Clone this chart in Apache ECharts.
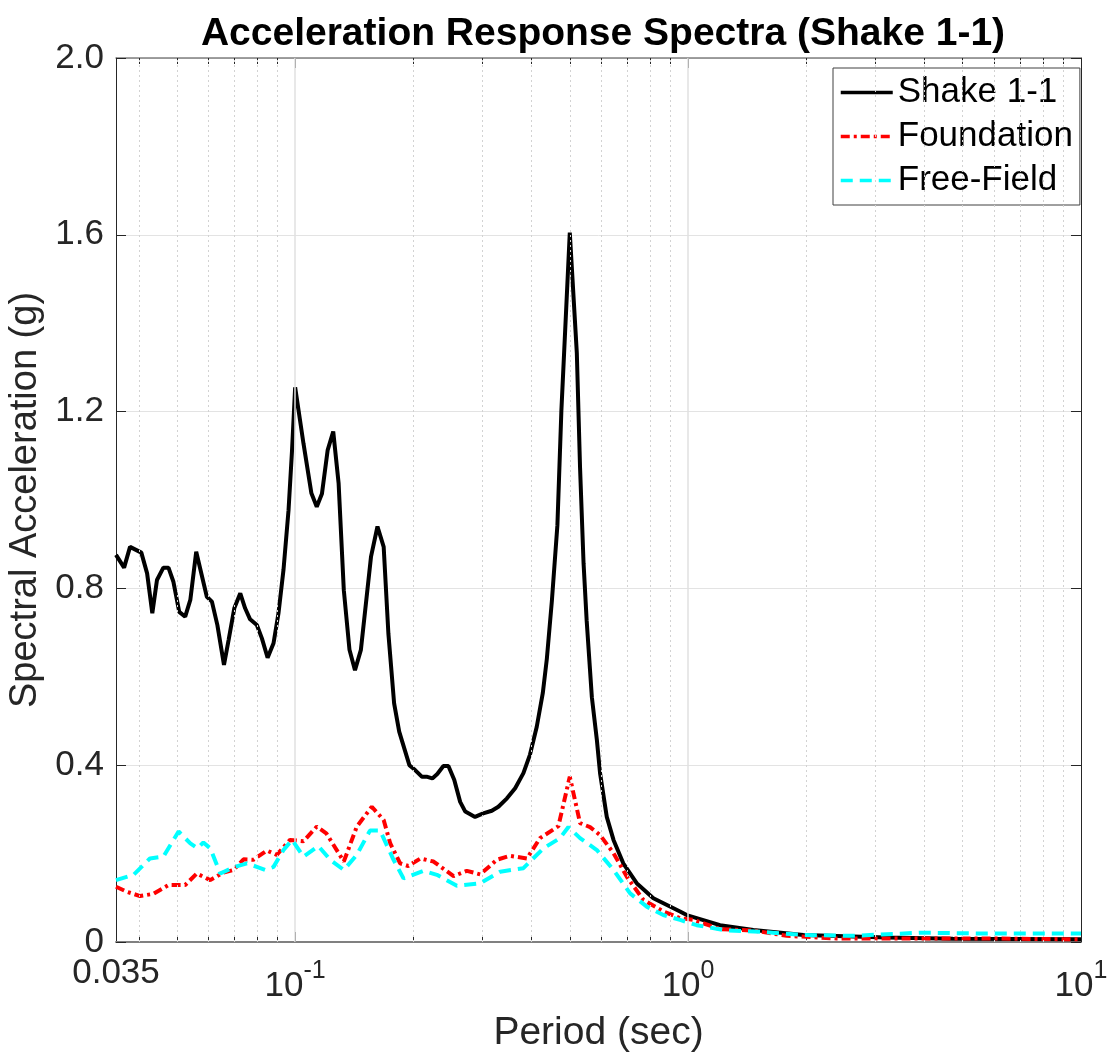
<!DOCTYPE html>
<html>
<head>
<meta charset="utf-8">
<script src="https://cdn.jsdelivr.net/npm/echarts@6/dist/echarts.min.js"></script>
<style>
html,body{margin:0;padding:0;background:#fff;}
#chart{width:1111px;height:1055px;}
</style>
</head>
<body>
<div id="chart"></div>
<script>
// ---- Data (period in sec, spectral acceleration in g) ----
var shakeT = [0.035,0.0367,0.0380,0.0406,0.0420,0.0433,0.0445,0.0462,0.0476,0.0490,0.0507,0.0525,0.0541,0.0560,0.0596,0.0614,0.0634,0.0659,0.0677,0.0700,0.0725,0.0746,0.0768,0.0799,0.0823,0.0851,0.0881,0.0907,0.0934,0.0962,0.0982,0.100,0.105,0.110,0.1135,0.117,0.121,0.125,0.129,0.133,0.1375,0.142,0.147,0.156,0.162,0.168,0.1727,0.1786,0.184,0.1953,0.202,0.210,0.216,0.2234,0.230,0.2384,0.2455,0.254,0.263,0.271,0.287,0.301,0.3166,0.329,0.346,0.363,0.381,0.396,0.412,0.4268,0.437,0.450,0.465,0.476,0.500,0.521,0.531,0.542,0.552,0.569,0.586,0.597,0.621,0.646,0.684,0.740,0.816,0.954,0.992,1.206,1.466,1.965,3.20,4.72,10];
var shakeSA = [0.876,0.847,0.894,0.881,0.834,0.744,0.819,0.847,0.847,0.815,0.747,0.736,0.774,0.883,0.781,0.770,0.717,0.627,0.683,0.755,0.789,0.755,0.730,0.717,0.687,0.643,0.676,0.744,0.842,0.977,1.113,1.255,1.128,1.015,0.985,1.014,1.113,1.155,1.038,0.796,0.661,0.615,0.661,0.872,0.940,0.894,0.698,0.540,0.476,0.400,0.389,0.374,0.374,0.370,0.380,0.398,0.398,0.367,0.317,0.295,0.283,0.291,0.297,0.306,0.325,0.348,0.382,0.424,0.487,0.563,0.640,0.770,0.943,1.203,1.605,1.333,1.073,0.857,0.727,0.554,0.457,0.382,0.283,0.231,0.178,0.133,0.099,0.069,0.061,0.038,0.027,0.016,0.010,0.0075,0.006];

var foundT = [0.035,0.0372,0.0403,0.0436,0.0476,0.0525,0.0562,0.0608,0.0657,0.0697,0.0739,0.0783,0.0847,0.0898,0.0970,0.105,0.1135,0.120,0.133,0.1435,0.1567,0.168,0.1746,0.185,0.194,0.2085,0.225,0.253,0.2735,0.296,0.326,0.352,0.389,0.420,0.4677,0.500,0.531,0.563,0.597,0.646,0.698,0.770,0.865,0.954,1.032,1.206,1.466,1.782,2.39,3.20,5.75,10];
var foundSA = [0.125,0.114,0.104,0.109,0.129,0.129,0.155,0.140,0.157,0.163,0.187,0.186,0.207,0.197,0.231,0.228,0.261,0.246,0.182,0.261,0.306,0.276,0.223,0.178,0.172,0.189,0.182,0.149,0.161,0.153,0.186,0.195,0.189,0.235,0.262,0.374,0.269,0.260,0.242,0.201,0.148,0.095,0.069,0.054,0.050,0.029,0.026,0.014,0.008,0.008,0.008,0.006];

var freeT = [0.035,0.0388,0.0427,0.0462,0.0505,0.0541,0.0564,0.0584,0.0608,0.0645,0.0697,0.0754,0.0799,0.0839,0.0881,0.0934,0.0982,0.105,0.1146,0.1228,0.133,0.1435,0.155,0.1645,0.178,0.1887,0.212,0.2295,0.258,0.296,0.3325,0.381,0.4285,0.472,0.496,0.531,0.586,0.646,0.712,0.785,0.865,0.954,1.052,1.254,1.524,1.965,2.634,3.89,5.75,10];
var freeSA = [0.140,0.152,0.189,0.193,0.250,0.223,0.212,0.225,0.212,0.155,0.169,0.178,0.170,0.163,0.170,0.208,0.231,0.193,0.217,0.186,0.163,0.197,0.252,0.252,0.186,0.144,0.161,0.152,0.127,0.133,0.159,0.167,0.212,0.235,0.260,0.235,0.208,0.163,0.110,0.080,0.061,0.050,0.038,0.026,0.023,0.016,0.014,0.021,0.019,0.019];

var seriesNames = ['Shake 1-1', 'Foundation', 'Free-Field'];
var xLabelValues = [0.035, 0.1, 1, 10];
var xMajorValues = [0.1, 1, 10];
var xMinorValues = [0.04,0.05,0.06,0.07,0.08,0.09,0.2,0.3,0.4,0.5,0.6,0.7,0.8,0.9,2,3,4,5,6,7,8,9];

function zip(a, b) { return a.map(function (v, i) { return [v, b[i]]; }); }

var FONT = 'Liberation Sans, Arial, Helvetica, sans-serif';
var TXT = '#262626';

var chart = echarts.init(document.getElementById('chart'), null, {renderer: 'canvas'});

function xAxisBase(pos, ticks, len, showLine, lineColor, lineWidth) {
  return {
    type: 'log', logBase: 10, min: 0.035, max: 10, position: pos,
    gridIndex: 0,
    axisLine: {show: showLine, onZero: false, lineStyle: {color: lineColor, width: lineWidth}},
    axisTick: {show: true, inside: true, length: len, customValues: ticks, lineStyle: {color: TXT, width: 1}},
    axisLabel: {show: false},
    splitLine: {show: false},
    minorTick: {show: false},
    minorSplitLine: {show: false}
  };
}

var xMain = xAxisBase('bottom', xMajorValues, 10, true, '#808080', 2);
xMain.axisLabel = {
  show: true,
  customValues: xLabelValues,
  margin: 14,
  verticalAlign: 'top',
  color: TXT,
  fontFamily: FONT,
  formatter: function (v) {
    if (Math.abs(v - 0.035) < 1e-9) return '{n|0.035}';
    var e = Math.round(Math.log(v) / Math.LN10);
    return '{b|10}{s|' + e + '}';
  },
  rich: {
    n: {fontSize: 35, fontFamily: FONT, color: TXT, verticalAlign: 'top', lineHeight: 36},
    b: {fontSize: 35, fontFamily: FONT, color: TXT, verticalAlign: 'bottom', padding: [13, 0, 0, 0]},
    s: {fontSize: 25, fontFamily: FONT, color: TXT, verticalAlign: 'top', padding: [3, 0, 0, 0]}
  }
};
xMain.name = 'Period (sec)';
xMain.nameLocation = 'middle';
xMain.nameGap = 72;
xMain.nameTextStyle = {fontSize: 39, fontFamily: FONT, color: TXT, verticalAlign: 'top'};

var option = {
  animation: false,
  backgroundColor: '#ffffff',
  title: {
    text: 'Acceleration Response Spectra (Shake 1-1)',
    left: 598, top: 10, textAlign: 'center',
    textStyle: {fontSize: 39, fontWeight: 'bold', fontFamily: FONT, color: '#000'}
  },
  grid: {left: 116, right: 30, top: 58, bottom: 113, containLabel: false, outerBoundsMode: 'none'},
  legend: {
    data: seriesNames,
    orient: 'vertical',
    left: 833, top: 68,
    itemWidth: 52, itemHeight: 20,
    itemGap: 9,
    padding: [7, 7, 7, 6],
    backgroundColor: '#ffffff',
    borderColor: '#404040', borderWidth: 1,
    itemStyle: {opacity: 0, borderWidth: 0},
    lineStyle: {width: 3.5},
    textStyle: {fontSize: 35, fontFamily: FONT, color: '#000', lineHeight: 35},
    selectedMode: false
  },
  xAxis: [
    xMain,
    xAxisBase('bottom', xMinorValues, 6, false, '#808080', 2),
    xAxisBase('top', xMajorValues, 10, true, '#808080', 1.5),
    xAxisBase('top', xMinorValues, 6, false, '#808080', 1.5)
  ],
  yAxis: [
    {
      type: 'value', min: 0, max: 2, interval: 0.4, position: 'left',
      name: 'Spectral Acceleration (g)', nameLocation: 'middle', nameGap: 61,
      nameTextStyle: {fontSize: 38, fontFamily: FONT, color: TXT},
      axisLine: {show: true, lineStyle: {color: TXT, width: 1}},
      axisTick: {show: true, inside: true, length: 10, lineStyle: {color: TXT}},
      axisLabel: {
        fontSize: 35, fontFamily: FONT, color: TXT, margin: 12,
        formatter: function (v) { return v === 0 ? '0' : v.toFixed(1); }
      },
      splitLine: {show: true, lineStyle: {color: '#e3e3e3', width: 1}}
    },
    {
      type: 'value', min: 0, max: 2, interval: 0.4, position: 'right',
      axisLine: {show: true, lineStyle: {color: TXT, width: 1}},
      axisTick: {show: true, inside: true, length: 10, lineStyle: {color: TXT}},
      axisLabel: {show: false},
      splitLine: {show: false}
    }
  ],
  series: [
    {
      name: 'gridlines', type: 'line', data: [], silent: true, z: 1,
      markLine: {
        silent: true, symbol: ['none', 'none'], animation: false,
        label: {show: false},
        data: xMinorValues.map(function (v) {
          return {xAxis: v, lineStyle: {type: [2, 3], color: '#d2d2d2', width: 1}};
        }).concat([0.1, 1].map(function (v) {
          return {xAxis: v, lineStyle: {type: 'solid', color: '#e0e0e0', width: 1.5}};
        }))
      }
    },
    {
      name: seriesNames[0], type: 'line', data: zip(shakeT, shakeSA),
      showSymbol: false, symbol: 'none', z: 3,
      lineStyle: {color: '#000000', width: 4, type: 'solid'},
      itemStyle: {color: '#000000'}
    },
    {
      name: seriesNames[1], type: 'line', data: zip(foundT, foundSA),
      showSymbol: false, symbol: 'none', z: 4,
      lineStyle: {color: '#ff0000', width: 4, type: [9, 4, 3, 4]},
      itemStyle: {color: '#ff0000'}
    },
    {
      name: seriesNames[2], type: 'line', data: zip(freeT, freeSA),
      showSymbol: false, symbol: 'none', z: 5,
      lineStyle: {color: '#00ffff', width: 4, type: [12, 7]},
      itemStyle: {color: '#00ffff'}
    }
  ]
};

chart.setOption(option);
</script>
</body>
</html>
